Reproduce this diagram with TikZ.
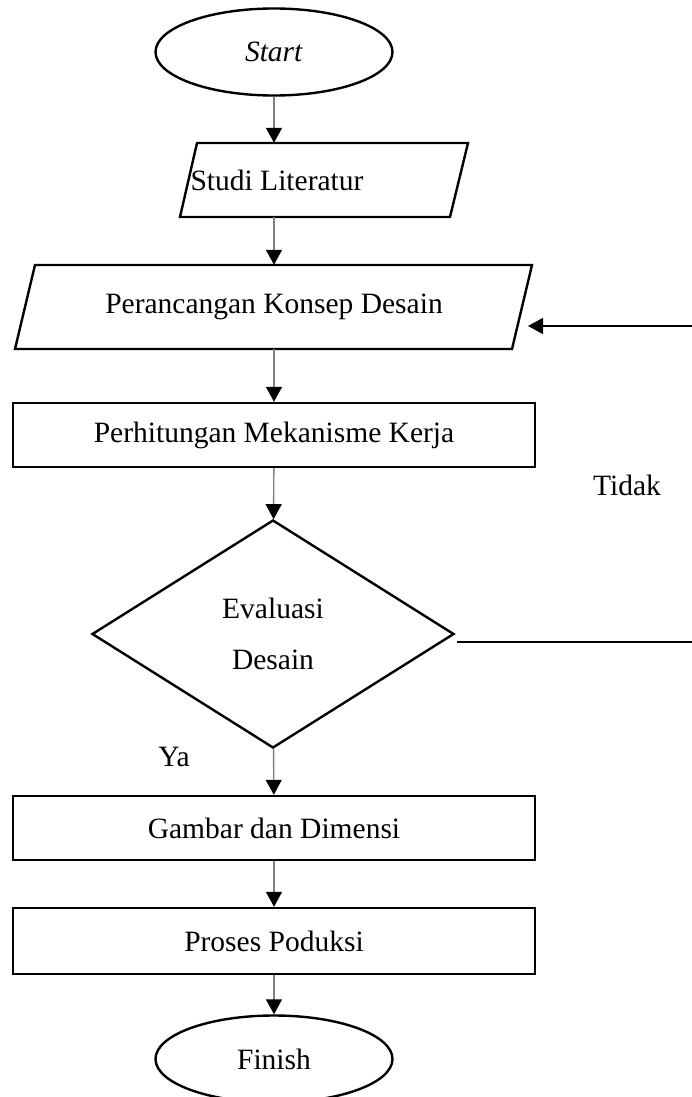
\documentclass[tikz,border=0pt]{standalone}
\usepackage{fontspec}
\setmainfont{Liberation Serif}
\usetikzlibrary{arrows.meta,shapes.geometric}
\begin{document}
\begin{tikzpicture}[x=1pt,y=-1pt,
  every node/.style={font=\fontsize{29.5}{34}\selectfont, inner sep=0pt},
  shapeline/.style={draw=black, line width=2.4pt},
  term/.style={shapeline, ellipse, minimum width=237pt, minimum height=87pt},
  procbox/.style={shapeline, rectangle, minimum width=522pt},
  flow/.style={draw=black!50, line width=1.4pt, -{Triangle[width=16pt,length=15pt,black]}},
  back/.style={draw=black, line width=1.4pt},
  backarrow/.style={back, -{Triangle[width=16pt,length=15pt,black]}}]
\useasboundingbox (0,0) rectangle (692,1097);
% shapes
\node[term] (start) at (274,52) {\textit{Start}};
\draw[shapeline] (197,143) -- (468,143) -- (450,217) -- (180,217) -- cycle;
\node[minimum height=74pt] (lit) at (277,180) {Studi Literatur};
\draw[shapeline] (35,265) -- (532,265) -- (512,349) -- (15,349) -- cycle;
\node[minimum height=84pt] (kon) at (274,307) {Perancangan Konsep Desain};
\node[procbox, minimum height=64pt] (hit) at (274,435) {Perhitungan Mekanisme Kerja};
\node[shapeline, diamond, minimum width=362pt, minimum height=228pt, aspect=1.59, align=center] (eva) at (273,634) {Evaluasi\\[17pt]Desain};
\node[procbox, minimum height=64pt] (gam) at (274,828) {Gambar dan Dimensi};
\node[procbox, minimum height=66pt] (pro) at (274,941) {Proses Poduksi};
\node[term] (fin) at (274,1059) {Finish};
% labels
\node (tidak) at (627,485) {Tidak};
\node (ya) at (174,757) {Ya};
% connectors
\draw[flow] (start) -- (start |- lit.north);
\draw[flow] (lit.south -| start) -- (kon);
\draw[flow] (kon) -- (hit);
\draw[flow] (hit) -- (eva);
\draw[flow] (eva) -- (gam);
\draw[flow] (gam) -- (pro);
\draw[flow] (pro) -- (fin);
\coordinate (fbin) at (692,326);
\coordinate (konR) at (528,326);
\draw[backarrow] (fbin) -- (konR);
\coordinate (evaR) at (457,642);
\coordinate (fbout) at (692,642);
\draw[back] (evaR) -- (fbout);
\end{tikzpicture}
\end{document}
